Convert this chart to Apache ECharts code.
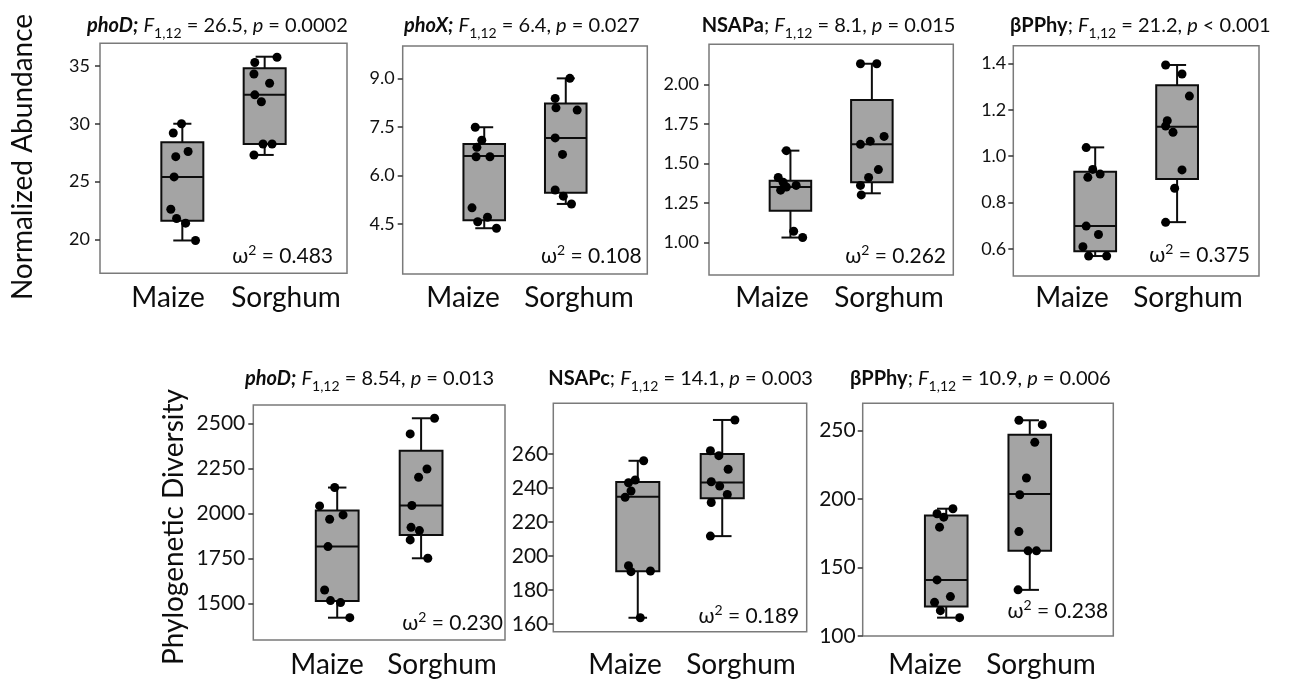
<!DOCTYPE html>
<html><head><meta charset="utf-8">
<script src="https://cdn.jsdelivr.net/npm/echarts@6/dist/echarts.min.js"></script>
<style>html,body{margin:0;padding:0;background:#fff}#c{width:1298px;height:682px}</style>
</head><body><div id="c"></div>
<script>
// ---------------- DATA ----------------
const categories = ['Maize', 'Sorghum'];
const rowTitles = ['Normalized Abundance', 'Phylogenetic Diversity'];

// Panel 1: phoD, normalized abundance
const naPhoD_maize = [30.0, 29.2, 27.6, 27.15, 25.4, 22.6, 21.8, 21.4, 19.9];
const naPhoD_maizeJit = [-0.01, -0.11, 0.07, -0.08, -0.10, -0.14, -0.07, 0.04, 0.16];
const naPhoD_sorghum = [35.75, 35.3, 34.3, 33.5, 32.5, 31.9, 28.25, 28.25, 27.3];
const naPhoD_sorghumJit = [0.15, -0.12, -0.13, 0.06, -0.12, -0.04, -0.02, 0.09, -0.13];
const naPhoD_box = [[19.9, 21.6, 25.4, 28.4, 30.0], [27.3, 28.25, 32.5, 34.8, 35.8]];
const naPhoD_ticks = [20, 25, 30, 35];

// Panel 2: phoX, normalized abundance
const naPhoX_maize = [7.49, 7.09, 6.87, 6.58, 6.58, 5.0, 4.71, 4.57, 4.37];
const naPhoX_maizeJit = [-0.11, -0.03, -0.09, -0.10, 0.07, -0.15, 0.04, -0.08, 0.15];
const naPhoX_sorghum = [9.0, 8.38, 8.09, 8.02, 7.16, 6.65, 5.55, 5.36, 5.12];
const naPhoX_sorghumJit = [0.05, -0.13, -0.12, 0.14, -0.13, -0.04, -0.13, -0.03, 0.07];
const naPhoX_box = [[4.37, 4.62, 6.60, 6.97, 7.49], [5.12, 5.47, 7.16, 8.22, 9.0]];
const naPhoX_ticks = [4.5, 6.0, 7.5, 9.0];

// Panel 3: NSAPa, normalized abundance
const naNSAPa_maize = [1.58, 1.41, 1.38, 1.36, 1.35, 1.33, 1.07, 1.03];
const naNSAPa_maizeJit = [-0.05, -0.15, -0.09, 0.07, -0.05, -0.12, 0.04, 0.15];
const naNSAPa_sorghum = [2.13, 2.13, 1.67, 1.64, 1.62, 1.46, 1.41, 1.36, 1.30];
const naNSAPa_sorghumJit = [-0.14, 0.06, 0.15, -0.02, -0.14, 0.08, -0.04, -0.14, -0.13];
const naNSAPa_box = [[1.03, 1.20, 1.35, 1.39, 1.58], [1.31, 1.38, 1.62, 1.90, 2.13]];
const naNSAPa_ticks = [1.00, 1.25, 1.50, 1.75, 2.00];

// Panel 4: bPPhy, normalized abundance
const naBPPhy_maize = [1.037, 0.943, 0.923, 0.909, 0.699, 0.663, 0.610, 0.570, 0.570];
const naBPPhy_maizeJit = [-0.11, -0.03, 0.06, -0.09, -0.11, 0.04, -0.15, -0.08, 0.14];
const naBPPhy_sorghum = [1.393, 1.354, 1.259, 1.153, 1.130, 1.103, 0.941, 0.862, 0.715];
const naBPPhy_sorghumJit = [-0.14, 0.06, 0.15, -0.12, -0.14, -0.05, 0.06, -0.03, -0.14];
const naBPPhy_box = [[0.570, 0.591, 0.699, 0.933, 1.038], [0.716, 0.902, 1.127, 1.306, 1.393]];
const naBPPhy_ticks = [0.6, 0.8, 1.0, 1.2, 1.4];

// Panel 5: phoD, phylogenetic diversity
const pdPhoD_maize = [2143, 2041, 1991, 1967, 1815, 1574, 1515, 1504, 1420];
const pdPhoD_maizeJit = [-0.03, -0.21, 0.07, -0.09, -0.11, -0.15, -0.08, 0.04, 0.15];
const pdPhoD_sorghum = [2528, 2441, 2246, 2200, 2043, 1922, 1904, 1852, 1750];
const pdPhoD_sorghumJit = [0.16, -0.13, 0.07, -0.03, -0.11, -0.12, -0.02, -0.13, 0.08];
const pdPhoD_box = [[1420, 1513, 1815, 2015, 2143], [1750, 1880, 2043, 2348, 2528]];
const pdPhoD_ticks = [1500, 1750, 2000, 2250, 2500];

// Panel 6: NSAPc, phylogenetic diversity
const pdNSAPc_maize = [256, 244.7, 243.1, 238.2, 234.5, 194.3, 191.2, 190.8, 163.7];
const pdNSAPc_maizeJit = [0.07, -0.03, -0.11, -0.08, -0.15, -0.11, 0.15, -0.08, 0.03];
const pdNSAPc_sorghum = [280, 261.9, 259, 251, 243.7, 241.1, 236.2, 231.5, 211.7];
const pdNSAPc_sorghumJit = [0.15, -0.14, -0.04, 0.07, -0.13, -0.03, 0.06, -0.13, -0.14];
const pdNSAPc_box = [[163.7, 191, 234.9, 243.5, 256], [211.7, 233.9, 243.3, 260, 280]];
const pdNSAPc_ticks = [160, 180, 200, 220, 240, 260];

// Panel 7: bPPhy, phylogenetic diversity
const pdBPPhy_maize = [193, 189.3, 186.8, 179.5, 141, 128.8, 124.6, 118.5, 113.4];
const pdBPPhy_maizeJit = [0.08, -0.11, -0.03, -0.08, -0.11, 0.05, -0.14, -0.07, 0.16];
const pdBPPhy_sorghum = [257.6, 254.4, 241.5, 215.4, 203.2, 176.3, 162.2, 162.2, 133.7];
const pdBPPhy_sorghumJit = [-0.13, 0.15, 0.06, -0.04, -0.12, -0.13, -0.02, 0.08, -0.14];
const pdBPPhy_box = [[113.4, 121.5, 141, 188, 193], [133.7, 162.2, 203.7, 247, 257.6]];
const pdBPPhy_ticks = [100, 150, 200, 250];

// Panel annotations
const geneNames = ['phoD', 'phoX', 'NSAPa', 'βPPhy', 'phoD', 'NSAPc', 'βPPhy'];
const geneItalic = [true, true, false, false, true, false, false];
const fValues = ['26.5', '6.4', '8.1', '21.2', '8.54', '14.1', '10.9'];
const pValues = ['= 0.0002', '= 0.027', '= 0.015', '< 0.001', '= 0.013', '= 0.003', '= 0.006'];
const omegaValues = ['0.483', '0.108', '0.262', '0.375', '0.230', '0.189', '0.238'];

// ---------------- LAYOUT (positions / styles only) ----------------
const FONT = 'Lato, "Open Sans", sans-serif';
const layout = [
  {grid: [100, 43.3, 247, 230], yRange: [17.06, 36.96], dec: 0, margin: 10, tf: 18, tx: 87, ty: 26, ox: 333, oy: 256, cx: [168, 286], cy: 298},
  {grid: [402.7, 46, 244.6, 228], yRange: [2.956, 10.0], dec: 1, margin: 8, tf: 18, tx: 404, ty: 26, ox: 641.7, oy: 256, cx: [463, 579], cy: 298},
  {grid: [709, 44.3, 244.3, 230.7], yRange: [0.793, 2.253], dec: 2, margin: 10, tf: 18, tx: 701.7, ty: 26, ox: 946, oy: 256, cx: [772, 889], cy: 298},
  {grid: [1013.3, 45.7, 245.7, 230.3], yRange: [0.484, 1.476], dec: 1, margin: 7, tf: 18, tx: 1010, ty: 26, ox: 1250, oy: 255, cx: [1072, 1188], cy: 298},
  {grid: [253.3, 405, 251.7, 235], yRange: [1296, 2601.7], dec: 0, margin: 8, tf: 21, tx: 245, ty: 379, ox: 503, oy: 623, cx: [327, 442], cy: 665},
  {grid: [553.3, 403.3, 253.4, 228.4], yRange: [155.5, 289.8], dec: 0, margin: 5, tf: 21, tx: 548.3, ty: 379, ox: 799.3, oy: 616, cx: [625, 741], cy: 665},
  {grid: [862.7, 403.3, 250.6, 232.7], yRange: [100, 270], dec: 0, margin: 7, tf: 21, tx: 850, ty: 379, ox: 1108.3, oy: 611, cx: [925, 1041], cy: 665}
];

const panels = [
  [naPhoD_maize, naPhoD_maizeJit, naPhoD_sorghum, naPhoD_sorghumJit, naPhoD_box, naPhoD_ticks],
  [naPhoX_maize, naPhoX_maizeJit, naPhoX_sorghum, naPhoX_sorghumJit, naPhoX_box, naPhoX_ticks],
  [naNSAPa_maize, naNSAPa_maizeJit, naNSAPa_sorghum, naNSAPa_sorghumJit, naNSAPa_box, naNSAPa_ticks],
  [naBPPhy_maize, naBPPhy_maizeJit, naBPPhy_sorghum, naBPPhy_sorghumJit, naBPPhy_box, naBPPhy_ticks],
  [pdPhoD_maize, pdPhoD_maizeJit, pdPhoD_sorghum, pdPhoD_sorghumJit, pdPhoD_box, pdPhoD_ticks],
  [pdNSAPc_maize, pdNSAPc_maizeJit, pdNSAPc_sorghum, pdNSAPc_sorghumJit, pdNSAPc_box, pdNSAPc_ticks],
  [pdBPPhy_maize, pdBPPhy_maizeJit, pdBPPhy_sorghum, pdBPPhy_sorghumJit, pdBPPhy_box, pdBPPhy_ticks]
];

const BOX_W = 0.51, CAP_W = 0.22;
const INK = '#0d0d0d';

function renderBox(params, api) {
  const x = api.value(0);
  const lo = api.coord([x, api.value(1)]);
  const q1 = api.coord([x, api.value(2)]);
  const md = api.coord([x, api.value(3)]);
  const q3 = api.coord([x, api.value(4)]);
  const hi = api.coord([x, api.value(5)]);
  const bw = api.size([BOX_W, 0])[0];
  const cw = api.size([CAP_W, 0])[0];
  const cx = lo[0];
  const ls = {stroke: INK, lineWidth: 2};
  return {type: 'group', children: [
    {type: 'line', shape: {x1: cx, y1: hi[1], x2: cx, y2: q3[1]}, style: ls},
    {type: 'line', shape: {x1: cx, y1: q1[1], x2: cx, y2: lo[1]}, style: ls},
    {type: 'line', shape: {x1: cx - cw / 2, y1: hi[1], x2: cx + cw / 2, y2: hi[1]}, style: ls},
    {type: 'line', shape: {x1: cx - cw / 2, y1: lo[1], x2: cx + cw / 2, y2: lo[1]}, style: ls},
    {type: 'rect', shape: {x: cx - bw / 2, y: q3[1], width: bw, height: q1[1] - q3[1]}, style: {fill: '#a4a4a4', stroke: INK, lineWidth: 2}},
    {type: 'line', shape: {x1: cx - bw / 2, y1: md[1], x2: cx + bw / 2, y2: md[1]}, style: ls}
  ]};
}

const grids = [], xAxes = [], yAxes = [], series = [], graphics = [];
const TS = 20;
const rich = {
  bi: {fontFamily: FONT, fontSize: TS, fontWeight: 'bold', fontStyle: 'italic', lineHeight: 28, fill: INK},
  b: {fontFamily: FONT, fontSize: TS, fontWeight: 'bold', lineHeight: 28, fill: INK},
  i: {fontFamily: FONT, fontSize: TS, fontStyle: 'italic', lineHeight: 28, fill: INK},
  n: {fontFamily: FONT, fontSize: TS, lineHeight: 28, fill: INK},
  sub: {fontFamily: FONT, fontSize: 14, lineHeight: 15, verticalAlign: 'bottom', fill: INK}
};
const omegaRich = {
  w: {fontFamily: FONT, fontSize: 21, lineHeight: 26, fill: INK},
  sup: {fontFamily: FONT, fontSize: 14, lineHeight: 14, verticalAlign: 'top', fill: INK}
};

layout.forEach((L, k) => {
  const [mVals, mJit, sVals, sJit, box, ticks] = panels[k];
  grids.push({left: L.grid[0], top: L.grid[1], width: L.grid[2], height: L.grid[3], show: true,
    borderColor: '#7a7a7a', borderWidth: 1.5, backgroundColor: '#fff'});
  xAxes.push({type: 'value', gridIndex: k, min: 0, max: 3, show: false});
  yAxes.push({type: 'value', gridIndex: k, min: L.yRange[0], max: L.yRange[1],
    axisLine: {show: false}, splitLine: {show: false},
    axisTick: {show: true, length: 5, customValues: ticks, lineStyle: {color: '#333', width: 1.5}},
    axisLabel: {customValues: ticks, margin: L.margin, color: '#111', fontSize: L.tf, fontFamily: FONT,
      formatter: v => Number(v).toFixed(L.dec)}
  });
  series.push({type: 'custom', xAxisIndex: k, yAxisIndex: k, renderItem: renderBox, z: 2,
    encode: {x: 0, y: [1, 2, 3, 4, 5]},
    data: box.map((b, i) => [i + 1].concat(b))});
  const pts = mVals.map((v, i) => [1 + mJit[i], v]).concat(sVals.map((v, i) => [2 + sJit[i], v]));
  series.push({type: 'scatter', xAxisIndex: k, yAxisIndex: k, z: 5, symbolSize: 9,
    itemStyle: {color: '#000', opacity: 1}, data: pts});

  const g = geneItalic[k] ? '{bi|' + geneNames[k] + ';} ' : '{b|' + geneNames[k] + '}{n|; }';
  graphics.push({type: 'text', x: L.tx, y: L.ty, style: {
    text: g + '{i|F}{sub|1,12}{n| = ' + fValues[k] + ', }{i|p}{n| ' + pValues[k] + '}',
    rich: rich, fontFamily: FONT, fontSize: TS, fill: INK, align: 'left', verticalAlign: 'middle'}});
  graphics.push({type: 'text', x: L.ox, y: L.oy, style: {
    text: '{w|ω}{sup|2}{w| = ' + omegaValues[k] + '}', rich: omegaRich,
    fontFamily: FONT, fontSize: 21, fill: INK, align: 'right', verticalAlign: 'middle'}});
  categories.forEach((c, j) => {
    graphics.push({type: 'text', x: L.cx[j], y: L.cy, style: {
      text: c, fontFamily: FONT, fontSize: 28, fill: INK, align: 'center', verticalAlign: 'middle'}});
  });
});

graphics.push({type: 'text', x: 23, y: 157, rotation: Math.PI / 2, style: {
  text: rowTitles[0], fontFamily: FONT, fontSize: 28, fill: INK, align: 'center', verticalAlign: 'middle'}});
graphics.push({type: 'text', x: 174, y: 527, rotation: Math.PI / 2, style: {
  text: rowTitles[1], fontFamily: FONT, fontSize: 28, fill: INK, align: 'center', verticalAlign: 'middle'}});

const chart = echarts.init(document.getElementById('c'), null, {renderer: 'canvas'});
chart.setOption({
  backgroundColor: '#fff',
  animation: false,
  grid: grids, xAxis: xAxes, yAxis: yAxes, series: series,
  graphic: {elements: graphics}
});
</script></body></html>
